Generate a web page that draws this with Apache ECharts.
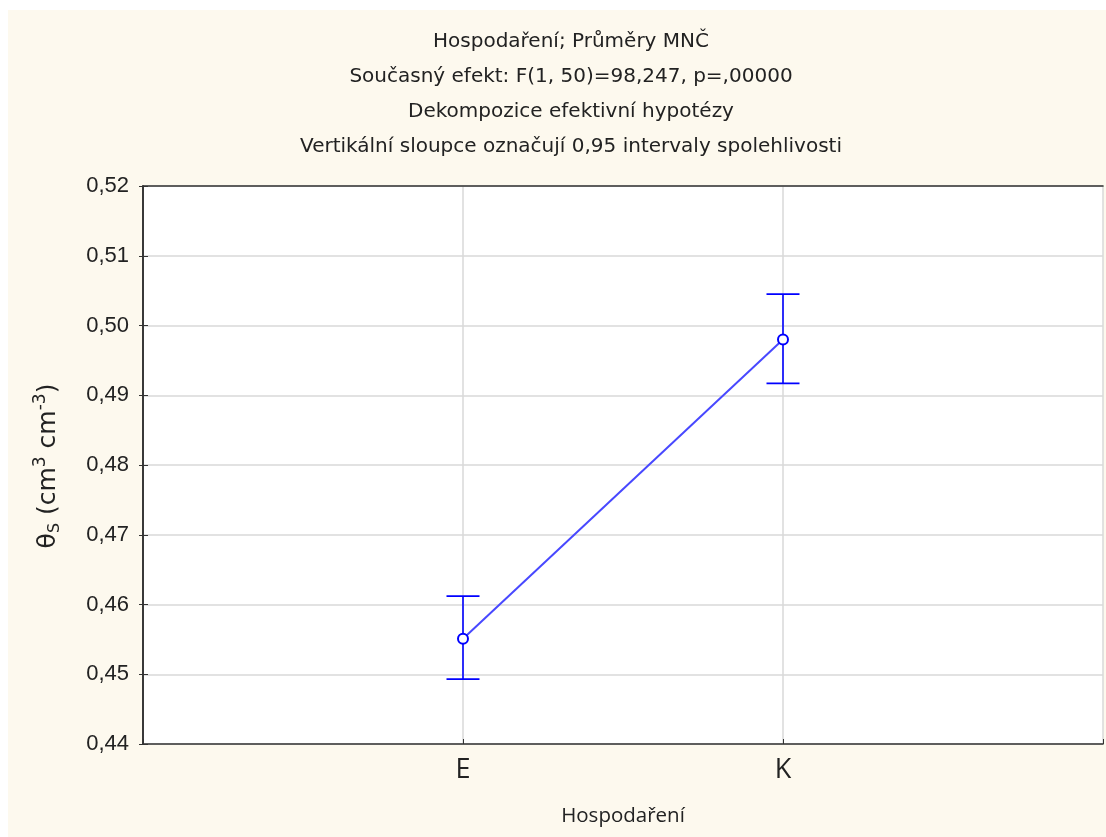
<!DOCTYPE html>
<html>
<head>
<meta charset="utf-8">
<script src="https://cdn.jsdelivr.net/npm/echarts@6/dist/echarts.min.js"></script>
<style>
  html, body { margin: 0; padding: 0; background: #ffffff; }
  #chart { width: 1106px; height: 837px; }
</style>
</head>
<body>
<div id="chart"></div>
<script>
// Group positions on the x scale and their labels
const groupPos = [1, 2];
const groupNames = ['E', 'K'];
// Least-squares means and 0.95 confidence limits
const means = [0.4551, 0.4980];
const lower = [0.4493, 0.4917];
const upper = [0.4612, 0.5045];
// Y tick range
const yMin = 0.44, yMax = 0.52, yStep = 0.01;

const titleLines = [
  'Hospodaření; Průměry MNČ',
  'Současný efekt: F(1, 50)=98,247, p=,00000',
  'Dekompozice efektivní hypotézy',
  'Vertikální sloupce označují 0,95 intervaly spolehlivosti'
];

const chart = echarts.init(document.getElementById('chart'), null, { renderer: 'canvas' });

const meanData = groupPos.map((x, i) => [x, means[i]]);
const ciData = groupPos.map((x, i) => [x, lower[i], upper[i]]);

const labelFont = '"Liberation Sans", Arial, sans-serif';
const wideFont = '"DejaVu Sans", sans-serif';
const uiFont = '"Open Sans", "Noto Sans", sans-serif';
const frame = { show: true, lineStyle: { color: '#333', width: 1.6 } };

chart.setOption({
  backgroundColor: '#ffffff',
  animation: false,
  graphic: [
    { type: 'rect', z: -10, shape: { x: 8, y: 10, width: 1106, height: 837 }, style: { fill: '#fdf9ee' } },
    {
      type: 'text', x: 571, y: 24, z: 10,
      style: {
        text: titleLines.join('\n'), fill: '#222', font: '20px ' + wideFont,
        textAlign: 'center', textVerticalAlign: 'top', lineHeight: 35
      }
    },
    {
      type: 'text', x: 48, y: 466, rotation: Math.PI / 2, z: 10,
      style: {
        text: '{m|θ}{sub|S}{m| (cm}{sup|3}{m| cm}{sup|-3}{m|)}',
        textAlign: 'center', textVerticalAlign: 'middle',
        rich: {
          m: { fontFamily: wideFont, fontSize: 25, fill: '#222', lineHeight: 32, verticalAlign: 'middle' },
          sub: { fontFamily: wideFont, fontSize: 16, fill: '#222', lineHeight: 32, verticalAlign: 'bottom', padding: [0, 0, 1, 0] },
          sup: { fontFamily: wideFont, fontSize: 17, fill: '#222', lineHeight: 32, verticalAlign: 'top', padding: [0, 0, 0, 0] }
        }
      }
    }
  ],
  grid: {
    left: 143, top: 186, right: 1, bottom: 93,
    show: true, backgroundColor: '#ffffff', borderColor: '#333', borderWidth: 0
  },
  xAxis: [{
    type: 'value', min: 0, max: 3, interval: 1,
    axisLine: frame,
    axisTick: { show: true, inside: true, length: 5, lineStyle: { color: '#333' } },
    splitLine: { show: true, lineStyle: { color: '#d9d9d9', width: 1.5 } },
    axisLabel: {
      fontFamily: uiFont, fontSize: 27, color: '#222', margin: 13,
      formatter: v => { const i = groupPos.indexOf(v); return i >= 0 ? groupNames[i] : ''; }
    },
    name: 'Hospodaření', nameLocation: 'middle', nameGap: 62,
    nameTextStyle: { fontFamily: uiFont, fontSize: 20.5, color: '#222' }
  }, {
    // top edge of the plot frame
    type: 'value', min: 0, max: 3, interval: 1, position: 'top',
    axisLine: frame, axisTick: { show: false }, splitLine: { show: false }, axisLabel: { show: false }
  }],
  yAxis: [{
    type: 'value', min: yMin, max: yMax, interval: yStep,
    axisLine: frame,
    axisTick: { show: true, inside: true, length: 5, lineStyle: { color: '#333' } },
    splitLine: { show: true, lineStyle: { color: '#d9d9d9', width: 1.5 } },
    axisLabel: {
      fontFamily: labelFont, fontSize: 22, color: '#222', margin: 14,
      formatter: v => v.toFixed(2).replace('.', ',')
    }
  }, {
    type: 'value', min: yMin, max: yMax, interval: yStep, position: 'right',
    axisLine: frame,
    axisTick: { show: true, inside: true, length: 4, lineStyle: { color: '#333' } },
    splitLine: { show: false },
    axisLabel: { show: false }
  }],
  series: [
    {
      type: 'custom',
      z: 3,
      data: ciData,
      renderItem: (params, api) => {
        const x = api.value(0);
        const lo = api.coord([x, api.value(1)]);
        const hi = api.coord([x, api.value(2)]);
        const hw = 16.5;
        const style = { stroke: '#0000ff', lineWidth: 1.6, fill: null };
        return {
          type: 'group',
          children: [
            { type: 'line', shape: { x1: lo[0], y1: lo[1], x2: hi[0], y2: hi[1] }, style },
            { type: 'line', shape: { x1: hi[0] - hw, y1: hi[1], x2: hi[0] + hw, y2: hi[1] }, style },
            { type: 'line', shape: { x1: lo[0] - hw, y1: lo[1], x2: lo[0] + hw, y2: lo[1] }, style }
          ]
        };
      }
    },
    {
      type: 'line',
      z: 4,
      data: meanData,
      symbol: 'circle',
      symbolSize: 10,
      lineStyle: { color: '#4848ff', width: 2 },
      itemStyle: { color: '#ffffff', borderColor: '#0000ff', borderWidth: 2 }
    }
  ]
});
</script>
</body>
</html>
